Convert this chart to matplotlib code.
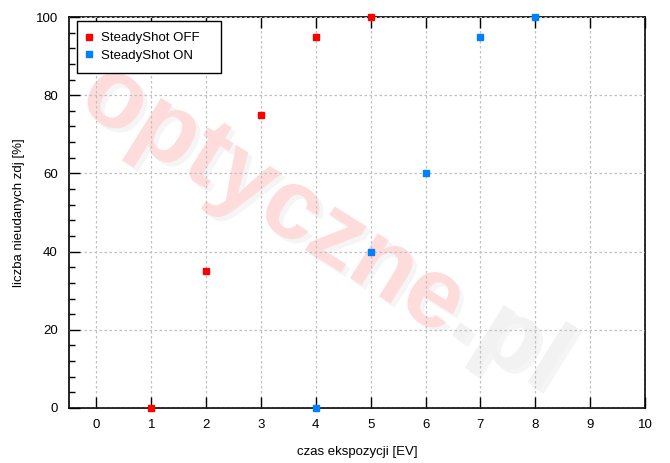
import matplotlib
matplotlib.use('Agg')
import matplotlib.pyplot as plt
import matplotlib.patheffects as pe
from matplotlib.ticker import MultipleLocator

plt.rcParams['font.family'] = ['Liberation Sans', 'DejaVu Sans']
plt.rcParams['font.size'] = 9.5

off_x = [1, 2, 3, 4, 5]
off_y = [0, 35, 75, 95, 100]
on_x = [4, 5, 6, 7, 8]
on_y = [0, 40, 60, 95, 100]
labels = ['SteadyShot OFF', 'SteadyShot ON']

fig = plt.figure(figsize=(6.7, 4.63), dpi=100)
ax = fig.add_axes([69/670, 1-408/463, 576/670, 391/463])

# watermark
shadow = [pe.withSimplePatchShadow(offset=(3, -3), shadow_rgbFace='0.9', alpha=0.4)]
ax.text(0.035, 0.827, 'optyczne', transform=ax.transAxes, fontsize=72, fontweight='bold',
        color='#ffdcdc', rotation=-32, rotation_mode='anchor', ha='left', va='center',
        zorder=0, path_effects=shadow)
ax.text(0.679, 0.252, '.pl', transform=ax.transAxes, fontsize=72, fontweight='bold',
        color='#f2f2f2', rotation=-32, rotation_mode='anchor', ha='left', va='center',
        zorder=0, path_effects=shadow)

ax.plot(off_x, off_y, 's', color='#ff0000', markersize=5, label=labels[0], clip_on=False, zorder=5)
ax.plot(on_x, on_y, 's', color='#0080ff', markersize=5, label=labels[1], clip_on=False, zorder=5)

ax.set_xlim(-0.5, 10)
ax.set_ylim(0, 100)
ax.xaxis.set_major_locator(MultipleLocator(1))
ax.yaxis.set_major_locator(MultipleLocator(20))
ax.yaxis.set_minor_locator(MultipleLocator(4))
ax.tick_params(which='major', direction='in', length=8, width=1, top=True, right=False, pad=8)
ax.tick_params(which='minor', direction='in', length=4, width=1, right=False)
ax.tick_params(axis='x', which='minor', bottom=False, top=False)
for s in ax.spines.values():
    s.set_linewidth(1.2)

ax.grid(True, which='major', color='#c0c0c0', linestyle=(0, (2, 2)), linewidth=0.9)
ax.set_axisbelow(False)
for gl in ax.get_xgridlines() + ax.get_ygridlines():
    gl.set_zorder(1)

ax.set_xlabel('czas ekspozycji [EV]', labelpad=11)
ax.set_ylabel('liczba nieudanych zdj [%]', labelpad=8)

leg = ax.legend([l + '   ' for l in labels], loc='upper left', bbox_to_anchor=(8/576, 1-4/391),
                borderaxespad=0, fancybox=False, edgecolor='black',
                framealpha=1, handlelength=0.15, handletextpad=0.8, borderpad=0.85, labelspacing=0.4,
                fontsize=9.5)
leg.get_frame().set_linewidth(1.0)
leg.set_zorder(10)

fig.savefig('out.png', dpi=100)
